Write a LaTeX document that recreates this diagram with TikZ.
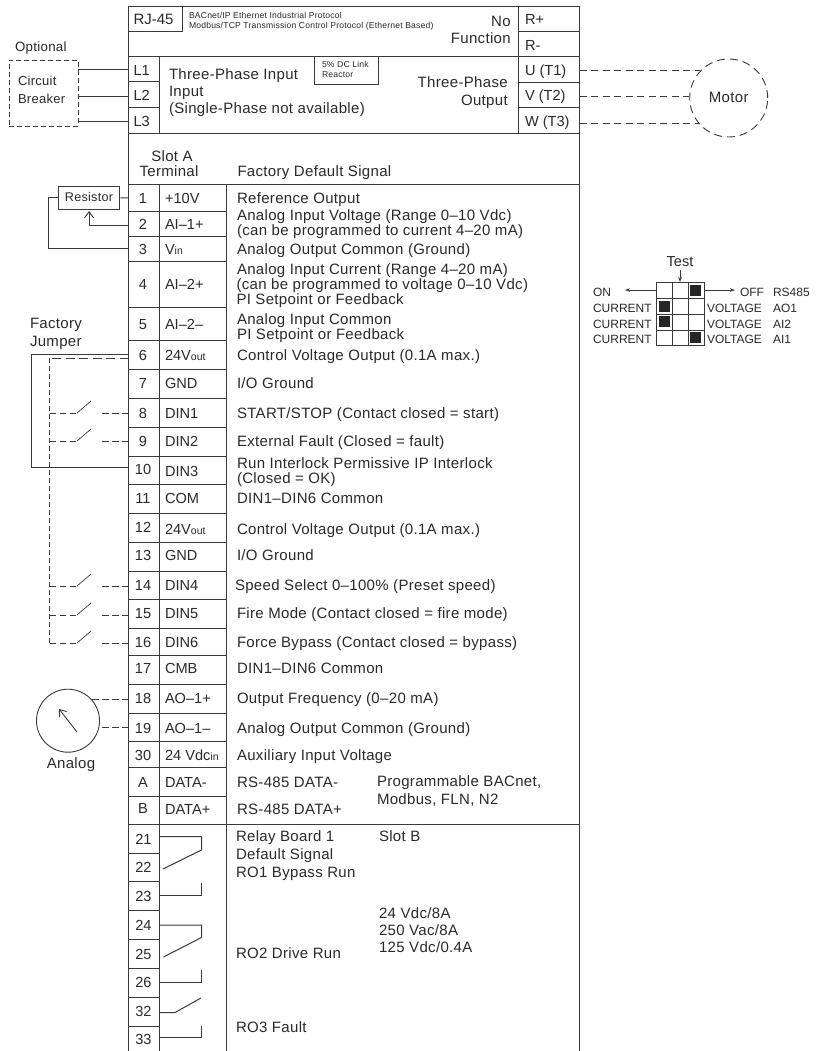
\documentclass[tikz,border=0pt]{standalone}
\usepackage{fontspec}
\setmainfont{Liberation Sans}
\newfontfamily\wfam[LetterSpace=2.2]{Liberation Sans}
\usetikzlibrary{arrows.meta}
\definecolor{ink}{HTML}{3A3A3A}
\definecolor{txtc}{HTML}{2A2A2A}
\newcommand{\fsz}[1]{\fontsize{#1}{#1}\selectfont}
\newcommand{\lo}[1]{{\fsz{10.5}#1}}
\tikzset{
 x=1pt,y=-1pt,
 ln/.style={draw=ink,line width=1pt},
 dsh/.style={draw=ink,line width=0.9pt,dash pattern=on 7pt off 4.5pt},
 dsh2/.style={draw=ink,line width=0.8pt,dash pattern=on 6.5pt off 3.5pt},
 dsh3/.style={draw=ink,line width=0.8pt,dash pattern=on 5pt off 3pt},
 dsh4/.style={draw=ink,line width=0.8pt,dash pattern=on 9pt off 4.5pt},
 txt/.style={inner sep=0pt,outer sep=0pt,anchor=base west,text=txtc,font=\fsz{14.6}},
 wtxt/.style={txt,font=\wfam\fsz{15}},
 wtxtr/.style={wtxt,anchor=base east},
 wtxtc/.style={wtxt,anchor=base},
 txtm/.style={txt,anchor=base},
 small/.style={txt,font=\wfam\fsz{8.6}},
 dip/.style={txt,font=\fsz{12}},
 barb/.style={-{Straight Barb[length=6pt,width=9pt,line width=0.9pt]}},
 tip/.style={-{Stealth[length=5pt,width=3.5pt]}},
}
\begin{document}
\begin{tikzpicture}
\useasboundingbox (0,0) rectangle (819,1051);
\fill[white] (0,0) rectangle (819,1051);
% frame
\draw[ln] (128.5,1051) -- (128.5,7) -- (579,7) -- (579,1051);
\draw[ln] (226,185) -- (226,1051);
\draw[ln] (159,56.5) -- (159,134);
\draw[ln] (159,185) -- (159,1051);
\draw[ln] (182,7) -- (182,32.5);
\draw[ln] (128.5,32) -- (182,32);
\draw[ln] (518.7,7) -- (518.7,134);
\draw[ln] (518.7,32) -- (579,32);
\draw[ln] (128.5,56.5) -- (579,56.5);
\draw[ln] (128.5,134) -- (579,134);
\draw[ln] (128.5,185) -- (579,185);
\draw[ln] (128.5,824) -- (579,824);
\draw[ln] (128.5,82) -- (159,82) (128.5,108) -- (159,108);
\draw[ln] (518.7,82.5) -- (579,82.5) (518.7,108) -- (579,108);
\draw[ln] (314,56.5) -- (314,85) -- (378,85) -- (378,56.5);
\foreach \y in {211,236,261.5,307,340.5,369,398,427,456,484,513,542,571,599,628,655,684,713,741,767,796}
  \draw[ln] (128.5,\y) -- (226,\y);
\foreach \y in {853,881,910,939,968,997,1026}
  \draw[ln] (128.5,\y) -- (159,\y);
% top texts
\node[txt,font=\fsz{15}] (rj) at (133.5,25) {RJ-45};
\node[small] (bac) at (189,19) {BACnet/IP Ethernet Industrial Protocol};
\node[small] (mod) at (189,29) {Modbus/TCP Transmission Control Protocol (Ethernet Based)};
\node[wtxtr] (no) at (510.7,27) {No};
\node[wtxtr] (fun) at (510.7,44) {Function};
\node[txt] (rp) at (525,25) {R+};
\node[txt] (rm) at (525,50.7) {R-};
\node[txt] (l1) at (133.5,76) {L1};
\node[txt] (l2) at (133.5,101) {L2};
\node[txt] (l3) at (133.5,127) {L3};
\node[wtxt] (tpi) at (169,80) {Three-Phase Input};
\node[wtxt] (inp) at (169,97) {Input};
\node[wtxt] (sph) at (169,114) {(Single-Phase not available)};
\node[small] (dc) at (322,68) {5\% DC Link};
\node[small] (rea) at (322,78) {Reactor};
\node[wtxtr] (tpo) at (507.7,88) {Three-Phase};
\node[wtxtr] (outp) at (507.7,106) {Output};
\node[txt] (u) at (525,76) {U (T1)};
\node[txt] (v) at (525,101) {V (T2)};
\node[txt] (w) at (525,127) {W (T3)};
\node[wtxtc] (sa) at (172,161) {Slot A};
\node[wtxtc] (tm) at (169,176) {Terminal};
\node[wtxt] (fds) at (237.5,176) {Factory Default Signal};
% terminal numbers and signals
\foreach \n/\b/\s/\c in {1/203/{+10V}/203,2/229/{AI–1+}/229,3/254/{V\lo{in}}/254,4/289/{AI–2+}/289,5/329/{AI–2–}/329,
  6/360/{24V\lo{out}}/360,7/388/{GND}/388,8/418/{DIN1}/418,9/446/{DIN2}/446,10/474/{DIN3}/476,11/503/{COM}/503,
  12/532/{24V\lo{out}}/534,13/560/{GND}/560,14/590/{DIN4}/590,15/618/{DIN5}/618,16/647/{DIN6}/647,17/673/{CMB}/673,
  18/703/{AO–1+}/703,19/733/{AO–1–}/733,30/760/{24 Vdc\lo{in}}/760,A/787/{DATA-}/787,B/813/{DATA+}/814}
{
  \node[txtm] (n\n) at (143,\b) {\n};
  \node[txt] (s\n) at (165,\c) {\s};
}
\foreach \n/\b in {21/844,22/872,23/901,24/930,25/959,26/987,32/1016,33/1044}
  \node[txtm] (n\n) at (143.5,\b) {\n};
% descriptions
\foreach \k/\x/\b/\t in {a/237/203/{Reference Output},
 b/237/220/{Analog Input Voltage (Range 0–10 Vdc)},
 c/237/235/{(can be programmed to current 4–20 mA)},
 d/237/254/{Analog Output Common (Ground)},
 e/237/274/{Analog Input Current (Range 4–20 mA)},
 f/236.5/289/{(can be programmed to voltage 0–10 Vdc)},
 g/236.5/304/{PI Setpoint or Feedback},
 h/237/324/{Analog Input Common},
 i/237/339/{PI Setpoint or Feedback},
 j/237/360/{Control Voltage Output (0.1A max.)},
 k/237/388/{I/O Ground},
 l/237/418/{START/STOP (Contact closed = start)},
 m/237/446/{External Fault (Closed = fault)},
 n/237/468/{Run Interlock Permissive IP Interlock},
 o/237/483/{(Closed = OK)},
 p/237/503/{DIN1–DIN6 Common},
 q/237/534/{Control Voltage Output (0.1A max.)},
 r/237/560/{I/O Ground},
 s/235/590/{Speed Select 0–100\% (Preset speed)},
 t/237/618/{Fire Mode (Contact closed = fire mode)},
 u/237/647/{Force Bypass (Contact closed = bypass)},
 v/237/673/{DIN1–DIN6 Common},
 w/237/703/{Output Frequency (0–20 mA)},
 x/237/733/{Analog Output Common (Ground)},
 y/237/760/{Auxiliary Input Voltage},
 z/237/787/{RS-485 DATA-},
 aa/237/814/{RS-485 DATA+},
 ab/377/786/{Programmable BACnet,},
 ac/377/804/{Modbus, FLN, N2},
 ad/236/841/{Relay Board 1},
 ae/379/841/{Slot B},
 af/236/859/{Default Signal},
 ag/236/877/{RO1 Bypass Run},
 ah/379/918/{24 Vdc/8A},
 ai/379/935/{250 Vac/8A},
 aj/379/952/{125 Vdc/0.4A},
 ak/236/958/{RO2 Drive Run},
 al/236/1032/{RO3 Fault}}
{ \node[wtxt] (d\k) at (\x,\b) {\t}; }
% circuit breaker
\node[wtxt,font=\wfam\fsz{13.3}] (opt) at (15,51.7) {Optional};
\node[draw=ink,line width=0.9pt,dash pattern=on 5pt off 3pt,minimum width=69pt,minimum height=66pt,inner sep=0pt,anchor=north west] (cb) at (8.5,60) {};
\node[wtxt,font=\wfam\fsz{13}] (cbt1) at (18,86) {Circuit};
\node[wtxt,font=\wfam\fsz{13}] (cbt2) at (18,104) {Breaker};
\coordinate (pl1) at (128.5,70);
\coordinate (pl2) at (128.5,96.5);
\coordinate (pl3) at (128.5,122);
\draw[ln] (pl1) -- (cb.east |- pl1);
\draw[ln] (pl2) -- (cb.east |- pl2);
\draw[ln] (pl3) -- (cb.east |- pl3);
% motor
\node[circle,draw=ink,line width=0.9pt,dash pattern=on 8pt off 5pt,minimum size=78pt,inner sep=0pt] (motor) at (728.7,98) {};
\node[wtxtc] (mt) at (728.7,103) {Motor};
\coordinate (pu) at (579.5,70.5);
\coordinate (pv) at (579.5,96.5);
\coordinate (pw) at (579.5,123.5);
\draw[dsh] (pu) -- (700,70.5);
\draw[dsh] (pv) -- (motor.west |- pv);
\draw[dsh] (pw) -- (700,123.5);
% resistor
\node[draw=ink,line width=1pt,minimum width=61.5pt,minimum height=22.5pt,inner sep=0pt] (res) at (89.2,197.8) {};
\node[wtxtc,font=\wfam\fsz{12.6}] (rest) at (89,201) {Resistor};
\coordinate (p1) at (128.5,198);
\coordinate (p2) at (128.5,225);
\coordinate (p3) at (128.5,248);
\draw[ln] (res.east) -- (p1);
\draw[ln] (res.west) -- (48,197.8) -- (48,248) -- (p3);
\draw[ln,barb] (p2) -- (89,225) -- (89,211);
% jumper
\node[wtxt] (fj1) at (30,328) {Factory};
\node[wtxt] (fj2) at (30,346) {Jumper};
\coordinate (p6a) at (128.5,354);
\coordinate (p10) at (128.5,467);
\draw[ln] (p6a) -- (31,354) -- (31,467) -- (p10);
\coordinate (p6b) at (128.5,358);
\coordinate (jc) at (49.5,358);
\draw[dsh4] (p6b) -- (jc);
\draw[dsh3] (jc) -- (49.5,643);
\foreach \y in {413,441,586,615,643}{
  \coordinate (sw\y) at (128.5,\y);
  \draw[dsh2] (49.5,\y) -- (77,\y);
  \draw[draw=ink,line width=0.7pt] (77,\y) -- (91,\y-12);
  \draw[dsh2] (sw\y) -- (102,\y);
}
% analog meter
\node[circle,draw=ink,line width=0.9pt,minimum size=63pt,inner sep=0pt] (meter) at (68,720.7) {};
\node[wtxtc] (ant) at (71,768) {Analog};
\coordinate (p18) at (128.5,699);
\coordinate (p19) at (128.5,727);
\draw[draw=ink,line width=0.9pt,barb] (77,732) -- (59,709);
\draw[dsh2] (p18) -- (91,699);
\draw[dsh2] (p19) -- (99,727);
% relays
\draw[ln] (159,836.5) -- (201.5,836.5) -- (201.5,850) -- (163,869);
\draw[ln] (159,895) -- (201.5,895) -- (201.5,882.5);
\draw[ln] (159,925) -- (201.5,925) -- (201.5,937.5) -- (163.5,957);
\draw[ln] (159,982) -- (201,982) -- (201,970);
\draw[ln] (159,1012.5) -- (175,1012.5) -- (201,998);
\draw[ln] (159,1037.5) -- (201,1037.5) -- (201,1025.5);
% DIP
\foreach \y in {282.3,298,314,330,345.7} \draw[ln] (656.3,\y) -- (704,\y);
\foreach \x in {656.3,672,688,704} \draw[ln] (\x,282.3) -- (\x,345.7);
\foreach \x/\y in {690/285,659/301,659/316,690/332}
  \fill[black!85] (\x,\y) rectangle (\x+11,\y+11);
\node[txtm,font=\fsz{14.5}] (tst) at (680,266) {Test};
\coordinate (dtop) at (680,282);
\draw[draw=ink,line width=0.8pt,tip] (680,269.5) -- (dtop);
\node[dip] (on) at (593,296) {ON};
\node[dip] (off) at (740,296) {OFF};
\node[dip] (r485) at (773,296) {RS485};
\coordinate (dl) at (656.3,290);
\coordinate (dr) at (704,290);
\draw[draw=ink,line width=0.8pt,tip] (dl) -- (625,290);
\draw[draw=ink,line width=0.8pt,tip] (dr) -- (735,290);
\foreach \k/\b/\t in {1/312/AO1,2/328/AI2,3/343/AI1}{
  \node[dip] (cur\k) at (593,\b) {CURRENT};
  \node[dip] (vol\k) at (707,\b) {VOLTAGE};
  \node[dip] (ai\k) at (773,\b) {\t};
}
\end{tikzpicture}
\end{document}
